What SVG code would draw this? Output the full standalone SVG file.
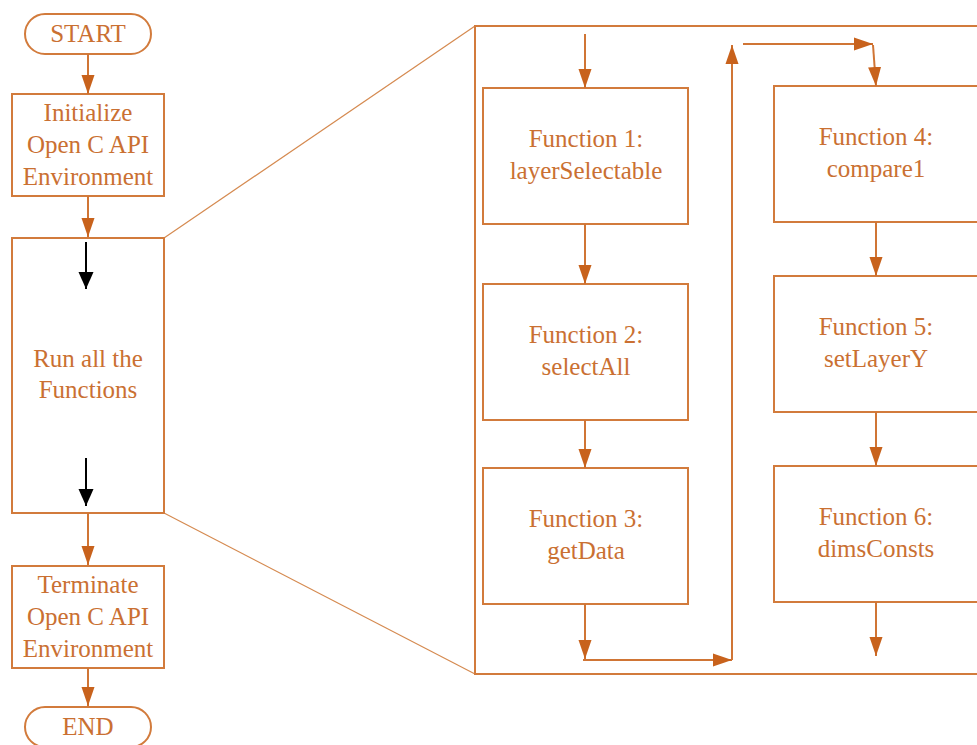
<svg xmlns="http://www.w3.org/2000/svg" width="977" height="745" viewBox="0 0 977 745">
  <defs>
    <style>
      .box { fill: #ffffff; stroke: #D27B3C; stroke-width: 2; }
      .frame { fill: none; stroke: #D27B3C; stroke-width: 2; }
      .zoomline { fill: none; stroke: #D58A50; stroke-width: 1.2; }
      .conn { fill: none; stroke: #D07535; stroke-width: 2; }
      .black { fill: none; stroke: #000000; stroke-width: 2; }
      text { font-family: "Liberation Serif", "Times New Roman", serif; font-size: 25px; fill: #CA7032; text-anchor: middle; }
    </style>
    <marker id="ah" markerUnits="userSpaceOnUse" markerWidth="20" markerHeight="14" refX="19" refY="7" orient="auto">
      <path d="M0,0.5 L19,7 L0,13.5 z" fill="#C8621C"/>
    </marker>
    <marker id="ahk" markerUnits="userSpaceOnUse" markerWidth="18" markerHeight="16" refX="17" refY="8" orient="auto">
      <path d="M0,0.5 L17,8 L0,15.5 z" fill="#000000"/>
    </marker>
  </defs>

  <rect width="977" height="745" fill="#ffffff"/>

  <!-- zoom outline linking the run box to the detail panel -->
  <g id="detail-frame">
    <line class="zoomline" x1="164" y1="238" x2="475" y2="26"/>
    <line class="zoomline" x1="164" y1="513" x2="475" y2="674"/>
    <rect class="frame" x="475" y="26" width="520" height="648"/>
  </g>

  <!-- main flow -->
  <g id="start">
    <rect class="box" x="25" y="14" width="126" height="40" rx="20" ry="20"/>
    <text x="88" y="42">START</text>
  </g>
  <g id="init">
    <rect class="box" x="12" y="94" width="152" height="102"/>
    <text x="88" y="121">Initialize</text>
    <text x="88" y="153">Open C API</text>
    <text x="88" y="185">Environment</text>
  </g>
  <g id="run">
    <rect class="box" x="12" y="238" width="152" height="275"/>
    <text x="88" y="367">Run all the</text>
    <text x="88" y="398">Functions</text>
  </g>
  <g id="terminate">
    <rect class="box" x="12" y="566" width="152" height="102"/>
    <text x="88" y="593">Terminate</text>
    <text x="88" y="625">Open C API</text>
    <text x="88" y="657">Environment</text>
  </g>
  <g id="end">
    <rect class="box" x="25" y="707" width="126" height="40" rx="20" ry="20"/>
    <text x="88" y="735">END</text>
  </g>

  <!-- detail panel functions -->
  <g id="f1">
    <rect class="box" x="483" y="88" width="205" height="136"/>
    <text x="586" y="147">Function 1:</text>
    <text x="586" y="179">layerSelectable</text>
  </g>
  <g id="f2">
    <rect class="box" x="483" y="284" width="205" height="136"/>
    <text x="586" y="343">Function 2:</text>
    <text x="586" y="375">selectAll</text>
  </g>
  <g id="f3">
    <rect class="box" x="483" y="468" width="205" height="136"/>
    <text x="586" y="527">Function 3:</text>
    <text x="586" y="559">getData</text>
  </g>
  <g id="f4">
    <rect class="box" x="774" y="86" width="205" height="136"/>
    <text x="876" y="145">Function 4:</text>
    <text x="876" y="177">compare1</text>
  </g>
  <g id="f5">
    <rect class="box" x="774" y="276" width="205" height="136"/>
    <text x="876" y="335">Function 5:</text>
    <text x="876" y="367">setLayerY</text>
  </g>
  <g id="f6">
    <rect class="box" x="774" y="466" width="205" height="136"/>
    <text x="876" y="525">Function 6:</text>
    <text x="876" y="557">dimsConsts</text>
  </g>

  <!-- connectors -->
  <g id="connectors">
    <line class="conn" x1="88" y1="54" x2="88" y2="94" marker-end="url(#ah)"/>
    <line class="conn" x1="88" y1="196" x2="88" y2="237" marker-end="url(#ah)"/>
    <line class="conn" x1="88" y1="513" x2="88" y2="565" marker-end="url(#ah)"/>
    <line class="conn" x1="88" y1="668" x2="88" y2="706" marker-end="url(#ah)"/>

    <line class="black" x1="86" y1="242" x2="86" y2="289" marker-end="url(#ahk)"/>
    <line class="black" x1="86" y1="458" x2="86" y2="506" marker-end="url(#ahk)"/>

    <line class="conn" x1="585" y1="34" x2="585" y2="88" marker-end="url(#ah)"/>
    <line class="conn" x1="585" y1="224" x2="585" y2="284" marker-end="url(#ah)"/>
    <line class="conn" x1="585" y1="420" x2="585" y2="468" marker-end="url(#ah)"/>
    <line class="conn" x1="585" y1="604" x2="585" y2="659" marker-end="url(#ah)"/>
    <line class="conn" x1="583" y1="660" x2="732" y2="660" marker-end="url(#ah)"/>
    <line class="conn" x1="732" y1="660" x2="732" y2="45" marker-end="url(#ah)"/>
    <line class="conn" x1="743" y1="44" x2="873" y2="44" marker-end="url(#ah)"/>
    <line class="conn" x1="873" y1="45" x2="876" y2="86" marker-end="url(#ah)"/>

    <line class="conn" x1="876" y1="222" x2="876" y2="276" marker-end="url(#ah)"/>
    <line class="conn" x1="876" y1="412" x2="876" y2="466" marker-end="url(#ah)"/>
    <line class="conn" x1="876" y1="602" x2="876" y2="656" marker-end="url(#ah)"/>
  </g>
</svg>
